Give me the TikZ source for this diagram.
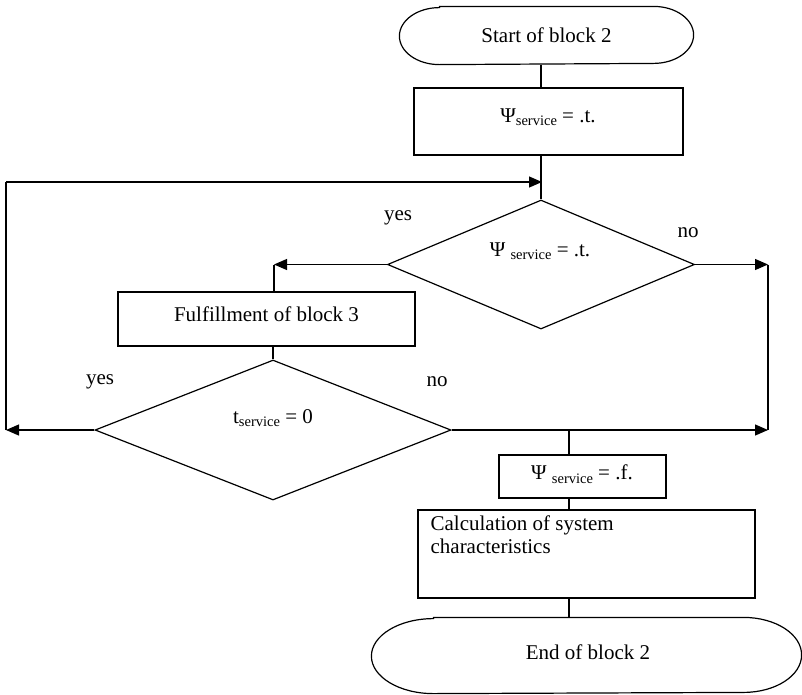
\documentclass[tikz,border=0pt]{standalone}
\usepackage{fontspec}
\setmainfont{Liberation Serif}
\usetikzlibrary{arrows.meta,shapes.geometric}
\newcommand{\sbs}[1]{\raisebox{-3.5pt}{\fontsize{14.5}{15}\selectfont #1}}
\begin{document}
\begin{tikzpicture}[x=1pt,y=-1pt, line width=1.2pt, font=\fontsize{21}{23}\selectfont,
  box/.style={draw, rectangle, inner sep=0pt},
  term/.style={rectangle, inner sep=0pt},
  dia/.style={draw, diamond, inner sep=0pt},
  txt/.style={inner sep=0pt},
  arr/.style={-{Triangle[length=13pt,width=11pt]}}]
\useasboundingbox (0,0) rectangle (802,694);

% nodes
\node[term, minimum width=293pt, minimum height=57pt] (start) at (546.5,35.5) {Start of block 2};
\draw ([xshift=40pt]start.north west) -- ([xshift=-40pt]start.north east)
  arc[start angle=90, end angle=-90, x radius=40pt, y radius=28.5pt]
  -- ([xshift=40pt]start.south west)
  arc[start angle=-90, end angle=-270, x radius=40pt, y radius=28.5pt] -- cycle;
\node[box, minimum width=269pt, minimum height=67pt] (b1) at (548.5,121.5) {};
\node[txt] (b1t) at (548,117) {Ψ\sbs{service} = .t.};
\node[dia, minimum width=307pt, minimum height=129pt] (d1) at (541,264.5) {};
\node[txt] (d1t) at (540,251) {Ψ \sbs{service} = .t.};
\node[box, minimum width=297pt, minimum height=54pt] (b2) at (266.5,319) {};
\node[txt] (b2t) at (266.5,314) {Fulfillment of block 3};
\node[dia, minimum width=356pt, minimum height=140pt] (d2) at (273,430) {};
\node[txt] (d2t) at (273,418) {t\sbs{service} = 0};
\node[box, minimum width=167pt, minimum height=43pt] (b3) at (582.5,476.5) {};
\node[txt] (b3t) at (582,474) {Ψ \sbs{service} = .f.};
\node[box, minimum width=337pt, minimum height=88pt] (b4) at (586.5,554) {};
\node[txt, anchor=north west, align=left] (b4t) at (430,515) {Calculation of system\\characteristics};
\node[term, minimum width=429pt, minimum height=75pt] (end) at (586.5,655.5) {};
\draw ([xshift=62pt]end.north west) -- ([xshift=-58pt]end.north east)
  arc[start angle=90, end angle=-90, x radius=58pt, y radius=37.5pt]
  -- ([xshift=62pt]end.south west)
  arc[start angle=-90, end angle=-270, x radius=62pt, y radius=37.5pt] -- cycle;
\node[txt] (endt) at (588,652) {End of block 2};

% labels
\node[txt] (yes1) at (398,218) {yes};
\node[txt] (no1) at (688,233) {no};
\node[txt] (yes2) at (100,382) {yes};
\node[txt] (no2) at (437,382) {no};

% helper coordinates
\coordinate (L) at (274,264.5);
\coordinate (R) at (768,264.5);
\coordinate (R2) at (768,430);
\coordinate (LL) at (6,430);
\coordinate (LT) at (6,182);
\coordinate (J) at (542,182);
\coordinate (M) at (569,430);

% connectors
\draw (start.south -| d1.north) -- (b1.north -| d1.north);
\draw (b1.south -| d1.north) -- (d1.north);
\draw[arr] (d1.west) -- (L);
\draw (L) -- (L |- b2.north);
\draw (b2.south -| d2.north) -- (d2.north);
\draw[arr] (d1.east) -- (R);
\draw (R) -- (R2);
\draw[arr] (d2.east) -- (R2);
\draw[arr] (d2.west) -- (LL);
\draw (LL) -- (LT);
\draw[arr] (LT) -- (J);
\draw (M) -- (M |- b3.north);
\draw (M |- b3.south) -- (M |- b4.north);
\draw (M |- b4.south) -- (M |- end.north);
\end{tikzpicture}
\end{document}
